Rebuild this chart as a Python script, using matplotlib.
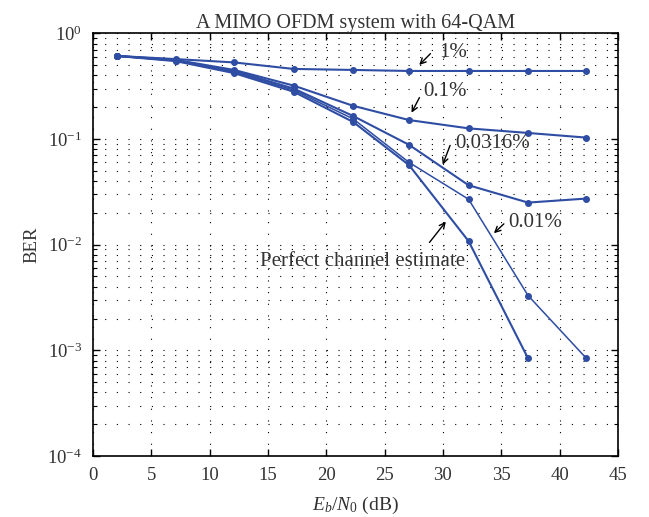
import matplotlib
matplotlib.use("Agg")
import matplotlib.pyplot as plt
from matplotlib.ticker import LogLocator, MultipleLocator, NullFormatter

plt.rcParams["font.family"] = "Liberation Serif"
plt.rcParams["mathtext.fontset"] = "custom"
plt.rcParams["mathtext.rm"] = "Liberation Serif"
plt.rcParams["mathtext.it"] = "Liberation Serif:italic"

# Eb/N0 points (dB)
ebn0 = [2.1, 7.1, 12.1, 17.2, 22.3, 27.1, 32.2, 37.3, 42.3]

# BER for each pilot/estimation-error level
ber_1 = [0.61, 0.57, 0.53, 0.46, 0.45, 0.44, 0.44, 0.44, 0.44]
ber_01 = [0.61, 0.56, 0.45, 0.32, 0.206, 0.151, 0.126, 0.114, 0.103]
ber_00316 = [0.61, 0.555, 0.44, 0.30, 0.165, 0.088, 0.0365, 0.025, 0.0273]
ber_001 = [0.61, 0.55, 0.43, 0.29, 0.155, 0.060, 0.0269, 0.0033, 0.00084]
ber_perfect = [0.61, 0.545, 0.42, 0.28, 0.145, 0.0565, 0.0108, 0.00084]

blue = "#2e4da3"
txt = "#333333"

fig = plt.figure(figsize=(6.49, 5.17), dpi=100)
ax = fig.add_axes([0.1433, 0.118, 0.8087, 0.8176])

ax.semilogy(ebn0, ber_1, "-o", color=blue, lw=1.5, ms=4)
ax.semilogy(ebn0, ber_01, "-o", color=blue, lw=1.5, ms=4)
ax.semilogy(ebn0, ber_00316, "-o", color=blue, lw=1.5, ms=4)
ax.semilogy(ebn0, ber_001, "-o", color=blue, lw=1.1, ms=4)
ax.semilogy(ebn0[:8], ber_perfect, "-o", color=blue, lw=1.5, ms=4)

ax.set_xlim(0, 45)
ax.set_ylim(1e-4, 1)
ax.xaxis.set_major_locator(MultipleLocator(5))
ax.yaxis.set_major_locator(LogLocator(base=10, numticks=10))
ax.yaxis.set_minor_locator(LogLocator(base=10, subs=range(2, 10), numticks=20))
ax.yaxis.set_minor_formatter(NullFormatter())

ax.tick_params(which="both", direction="in", top=True, right=True,
               labelsize=13.5, labelcolor=txt)
ax.tick_params(which="major", length=5, width=1, pad=8)
ax.tick_params(which="minor", length=3, width=0.8)
for s in ax.spines.values():
    s.set_linewidth(1.2)

dots = (0, (1, 9.5))
ax.grid(True, which="major", color="k", ls=dots, lw=0.8)
ax.yaxis.grid(True, which="minor", color="k", ls=dots, lw=0.8)

ax.set_title("A MIMO OFDM system with 64-QAM", fontsize=14.5, pad=4, color=txt)
ax.set_xlabel(r"$E_b/N_0$ (dB)", fontsize=14, labelpad=8, color=txt)
ax.set_ylabel("BER", fontsize=13.5, labelpad=5, color=txt)

arrow = dict(arrowstyle="->", color="k", lw=1)
ax.annotate("", xy=(27.8, 0.48), xytext=(29.1, 0.67), arrowprops=arrow)
ax.text(29.7, 0.665, "1%", fontsize=15, va="center", ha="left", color=txt)
ax.annotate("", xy=(27.2, 0.168), xytext=(28.1, 0.26), arrowprops=arrow)
ax.text(28.3, 0.284, "0.1%", fontsize=15, va="center", ha="left", color=txt)
ax.annotate("", xy=(29.9, 0.054), xytext=(30.7, 0.092), arrowprops=arrow)
ax.text(31.1, 0.091, "0.0316%", fontsize=15, va="center", ha="left", color=txt)
ax.annotate("", xy=(34.2, 0.0123), xytext=(35.4, 0.0164), arrowprops=arrow)
ax.text(35.6, 0.0163, "0.01%", fontsize=15, va="center", ha="left", color=txt)
ax.annotate("", xy=(30.4, 0.0173), xytext=(28.7, 0.0100), arrowprops=arrow)
ax.text(14.3, 0.00695, "Perfect channel estimate", fontsize=15, va="center",
        ha="left", color=txt)

fig.savefig("out.png", dpi=100)
